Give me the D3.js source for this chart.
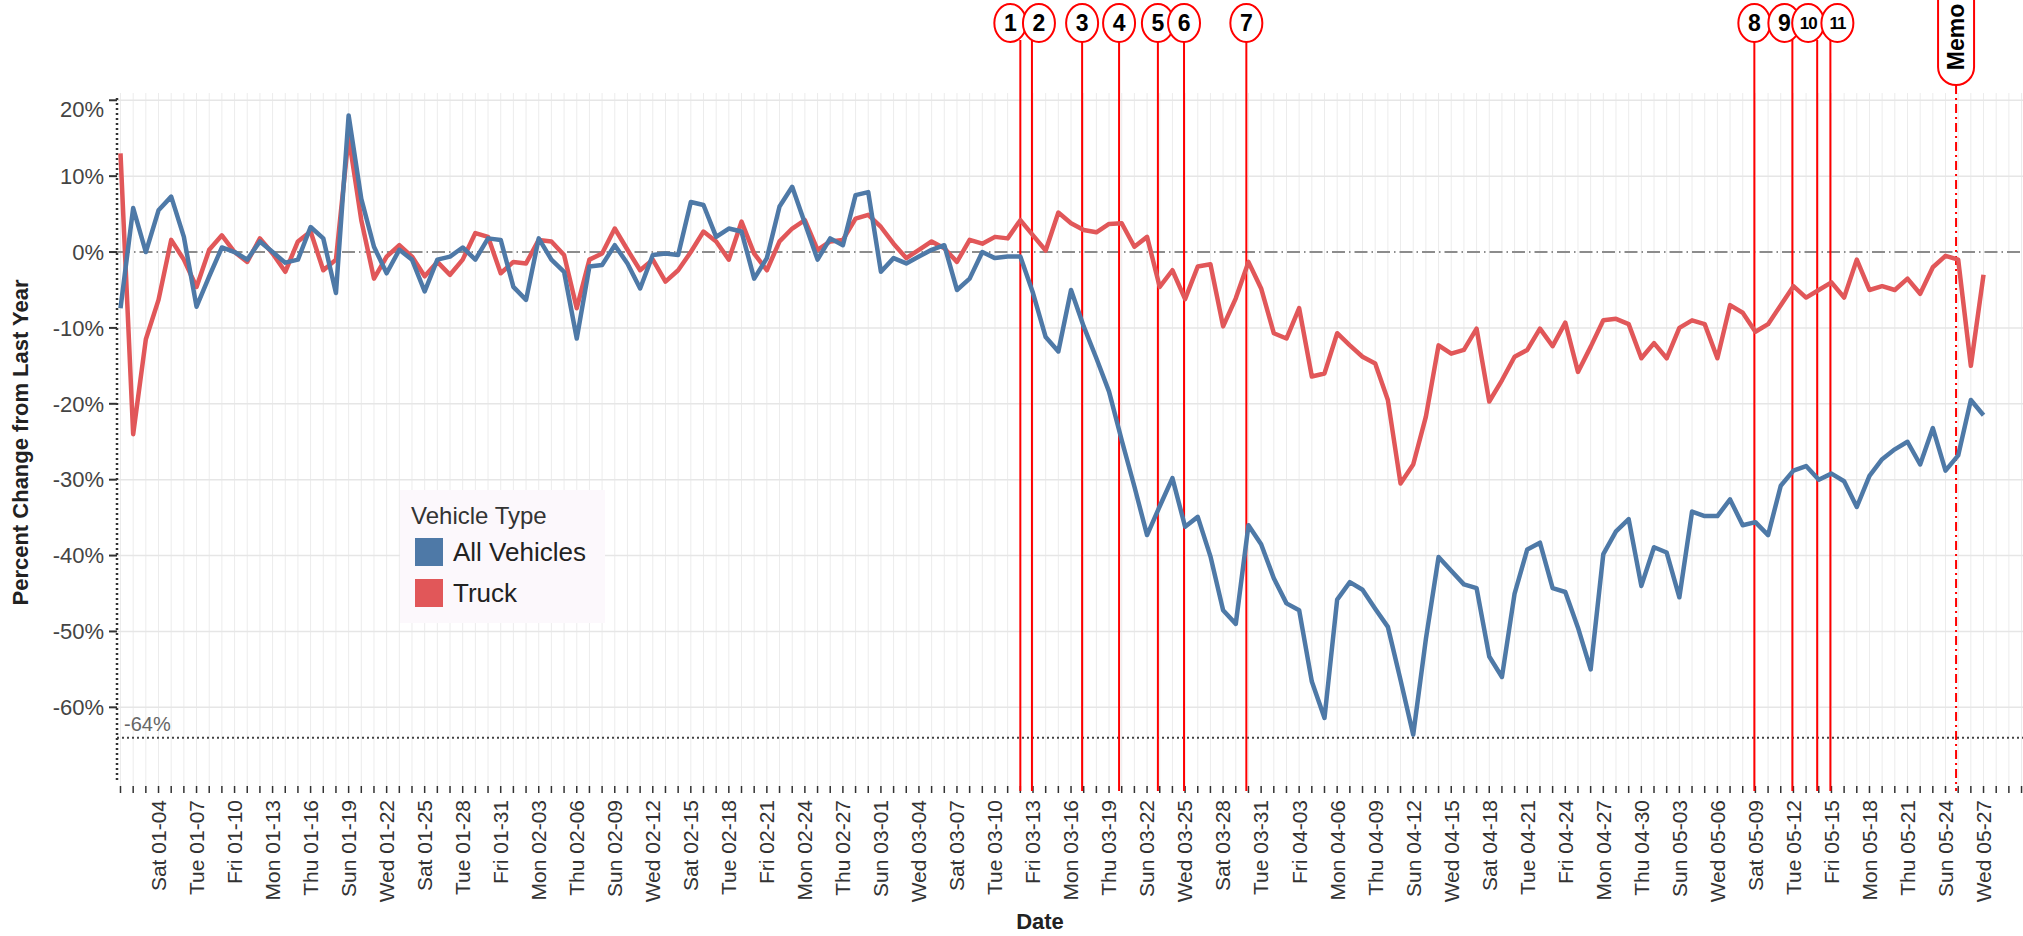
<!DOCTYPE html>
<html>
<head>
<meta charset="utf-8">
<script src="https://cdn.jsdelivr.net/npm/d3@7"></script>
<style>
body { margin: 0; background: #fff; }
text { font-family: "Liberation Sans", Arial, sans-serif; }
</style>
</head>
<body>
<div id="chart"></div>
<script>
// daily values, 2020-01-01 .. 2020-05-28
const firstDay = "2020-01-01";
const lastDay = "2020-05-28";
const allVehicles = [
	-7.4, 5.8, 0, 5.5, 7.3, 2, -7.2, -3.2, 0.6, 0,
	-1, 1.4, 0, -1.4, -1, 3.3, 1.8, -5.4, 18, 7,
	0.7, -2.8, 0.3, -1, -5.2, -1, -0.6, 0.6, -1, 1.8,
	1.6, -4.6, -6.3, 1.8, -1, -2.6, -11.4, -1.9, -1.7, 0.9,
	-1.5, -4.8, -0.4, -0.2, -0.4, 6.6, 6.2, 2, 3.1, 2.7,
	-3.5, -0.8, 6, 8.6, 3.8, -1, 1.8, 0.9, 7.5, 7.9,
	-2.6, -0.8, -1.5, -0.6, 0.3, 0.9, -5, -3.5, 0, -0.8,
	-0.6, -0.6, -5.4, -11.2, -13.1, -5, -9.8, -14, -18.4, -24.8,
	-30.9, -37.3, -33.5, -29.8, -36.2, -34.9, -40.1, -47.2, -49, -36,
	-38.5, -43, -46.3, -47.2, -56.6, -61.4, -45.8, -43.5, -44.5, -47,
	-49.4, -56.4, -63.6, -51, -40.2, -42, -43.8, -44.3, -53.3, -56,
	-45, -39.2, -38.3, -44.3, -44.8, -49.5, -55, -39.8, -36.8, -35.2,
	-44, -38.9, -39.6, -45.5, -34.2, -34.8, -34.8, -32.6, -36, -35.6,
	-37.3, -30.8, -28.8, -28.2, -30, -29.2, -30.2, -33.6, -29.5, -27.3,
	-26, -25, -28, -23.2, -28.8, -26.8, -19.5, -21.5
];
const truck = [
	13, -24, -11.5, -6.3, 1.6, -1, -4.6, 0.3, 2.2, 0,
	-1.3, 1.8, -0.2, -2.6, 1.4, 2.7, -2.4, -1, 15.2, 4.2,
	-3.5, -0.6, 0.9, -0.6, -3.2, -1.3, -3, -1, 2.5, 2,
	-2.8, -1.3, -1.5, 1.6, 1.4, -0.4, -7.4, -1, -0.2, 3.1,
	0.3, -2.4, -1, -3.9, -2.4, 0, 2.7, 1.4, -1, 4,
	-0.2, -2.4, 1.4, 3.1, 4.2, 0.3, 1.4, 1.6, 4.4, 4.9,
	3.3, 1.1, -0.8, 0.3, 1.4, 0.5, -1.3, 1.6, 1.1, 2,
	1.8, 4.2, 2.2, 0.2, 5.2, 3.8, 2.9, 2.6, 3.7, 3.8,
	0.7, 2, -4.6, -2.4, -6.2, -1.9, -1.6, -9.8, -6.1, -1.3,
	-4.8, -10.7, -11.4, -7.4, -16.4, -16, -10.7, -12.3, -13.8, -14.7,
	-19.5, -30.5, -28, -21.7, -12.3, -13.4, -12.9, -10.1, -19.7, -16.9,
	-13.8, -12.9, -10.1, -12.4, -9.3, -15.8, -12.5, -9, -8.8, -9.5,
	-14, -12, -14, -10, -9, -9.5, -14, -7, -8, -10.5,
	-9.5, -7, -4.5, -6, -5, -4, -6, -1, -5, -4.5,
	-5, -3.5, -5.5, -2, -0.5, -1, -15, -3
];
const seriesNames = ["All Vehicles", "Truck"];
const yTicks = [20, 10, 0, -10, -20, -30, -40, -50, -60];
const refValue = -64;
const annotations = [
	["1", "2020-03-12T00:00"], ["2", "2020-03-12T22:00"], ["3", "2020-03-16T21:00"],
	["4", "2020-03-19T19:00"], ["5", "2020-03-22T20:30"], ["6", "2020-03-24T22:00"],
	["7", "2020-03-29T20:00"], ["8", "2020-05-08T22:00"], ["9", "2020-05-11T22:00"],
	["10", "2020-05-13T21:00"], ["11", "2020-05-14T22:00"]
];
const memoDate = "2020-05-24T20:00";

const W = 2023, H = 936;
const colors = {"All Vehicles": "#4e79a7", "Truck": "#e15759"};
const nudge = {"1": -10, "2": 7, "9": -8, "10": -9, "11": 7};
const parse = d3.utcParse("%Y-%m-%dT%H:%M");
const day = s => d3.utcParse("%Y-%m-%d")(s);

const svg = d3.select("#chart").append("svg")
	.attr("width", W)
	.attr("height", H)
	.style("display", "block");

const x = d3.scaleUtc([day(firstDay), day(lastDay)], [120.5, 1996.2]);
const y = d3.scaleLinear([-70.5, 20.3], [787, 98]);
const left = 117, right = W;

const dates = d3.utcDay.range(day(firstDay), d3.utcDay.offset(day(lastDay), 1));
const gridDays = d3.utcDay.range(day(firstDay), d3.utcDay.offset(day(lastDay), 4));

// vertical day grid
svg.append("g")
	.attr("stroke", "#ececec")
	.attr("stroke-width", 1)
	.selectAll("line")
	.data(gridDays.filter(d => x(d) < W))
	.join("line")
	.attr("x1", d => x(d)).attr("x2", d => x(d))
	.attr("y1", 93).attr("y2", 787);

// horizontal grid
svg.append("g")
	.attr("stroke", "#e6e6e6")
	.attr("stroke-width", 1.5)
	.selectAll("line")
	.data(yTicks.filter(v => v !== 0))
	.join("line")
	.attr("x1", left).attr("x2", right)
	.attr("y1", d => y(d)).attr("y2", d => y(d));

// zero line
svg.append("line")
	.attr("x1", left).attr("x2", right)
	.attr("y1", y(0)).attr("y2", y(0))
	.attr("stroke", "#8c8c8c")
	.attr("stroke-width", 2)
	.attr("stroke-dasharray", "13,4,1.5,4");

// reference line -64%
svg.append("line")
	.attr("x1", left).attr("x2", right)
	.attr("y1", y(refValue)).attr("y2", y(refValue))
	.attr("stroke", "#444")
	.attr("stroke-width", 2)
	.attr("stroke-dasharray", "2,3");
svg.append("text")
	.attr("x", 124)
	.attr("y", y(refValue) - 7)
	.attr("font-size", 20)
	.attr("fill", "#666")
	.text(refValue + "%");

// y axis
const yAxis = svg.append("g");
yAxis.append("line")
	.attr("x1", left).attr("x2", left)
	.attr("y1", 98).attr("y2", 780)
	.attr("stroke", "#333")
	.attr("stroke-width", 2.5)
	.attr("stroke-dasharray", "2,3");
yAxis.selectAll(".tk")
	.data(yTicks)
	.join("line")
	.attr("x1", 109).attr("x2", left)
	.attr("y1", d => y(d)).attr("y2", d => y(d))
	.attr("stroke", "#333")
	.attr("stroke-width", 2);
yAxis.selectAll("text")
	.data(yTicks)
	.join("text")
	.attr("x", 104)
	.attr("y", d => y(d) + (d === yTicks[0] ? 9 : 0))
	.attr("dy", "0.35em")
	.attr("text-anchor", "end")
	.attr("font-size", 22)
	.attr("fill", "#444")
	.text(d => d + "%");
svg.append("text")
	.attr("transform", `translate(28,${(98 + 787) / 2}) rotate(-90)`)
	.attr("text-anchor", "middle")
	.attr("font-size", 22)
	.attr("font-weight", "bold")
	.attr("fill", "#222")
	.text("Percent Change from Last Year");

// x axis
const xAxis = svg.append("g");
xAxis.selectAll("line")
	.data(gridDays.filter(d => x(d) < W))
	.join("line")
	.attr("x1", d => x(d)).attr("x2", d => x(d))
	.attr("y1", 786).attr("y2", 793)
	.attr("stroke", "#333")
	.attr("stroke-width", 1.5);
const fmt = d3.utcFormat("%a %m-%d");
xAxis.selectAll("text")
	.data(dates.filter((d, i) => i % 3 === 0 && i > 0))
	.join("text")
	.attr("transform", d => `translate(${x(d)},800) rotate(-90)`)
	.attr("dy", "0.35em")
	.attr("text-anchor", "end")
	.attr("font-size", 21)
	.attr("fill", "#333")
	.text(d => fmt(d));
svg.append("text")
	.attr("x", 1040)
	.attr("y", 929)
	.attr("text-anchor", "middle")
	.attr("font-size", 22)
	.attr("font-weight", "bold")
	.attr("fill", "#222")
	.text("Date");

// annotation stems
const ann = svg.append("g");
ann.selectAll("line")
	.data(annotations)
	.join("line")
	.attr("x1", d => x(parse(d[1]))).attr("x2", d => x(parse(d[1])))
	.attr("y1", 40).attr("y2", 791)
	.attr("stroke", "#ff0000")
	.attr("stroke-width", 2);
svg.append("line")
	.attr("x1", x(parse(memoDate))).attr("x2", x(parse(memoDate)))
	.attr("y1", 85).attr("y2", 791)
	.attr("stroke", "#ff0000")
	.attr("stroke-width", 2)
	.attr("stroke-dasharray", "9,4,2,4");

// series lines
const line = d3.line()
	.x((v, i) => x(dates[i]))
	.y(v => y(v));
svg.append("g")
	.attr("fill", "none")
	.attr("stroke-width", 4.5)
	.attr("stroke-linejoin", "round")
	.selectAll("path")
	.data([[seriesNames[1], truck], [seriesNames[0], allVehicles]])
	.join("path")
	.attr("stroke", d => colors[d[0]])
	.attr("d", d => line(d[1]));

// annotation badges
const badge = ann.selectAll("g")
	.data(annotations)
	.join("g")
	.attr("transform", d => `translate(${x(parse(d[1])) + (nudge[d[0]] || 0)},23)`);
badge.append("ellipse")
	.attr("rx", 16)
	.attr("ry", 19)
	.attr("fill", "#fff")
	.attr("stroke", "#ff0000")
	.attr("stroke-width", 2);
badge.append("text")
	.attr("text-anchor", "middle")
	.attr("dy", "0.36em")
	.attr("font-weight", "bold")
	.attr("font-size", d => d[0].length > 1 ? 17 : 23)
	.attr("letter-spacing", d => d[0].length > 1 ? -1 : 0)
	.attr("fill", "#000")
	.text(d => d[0]);
const memo = svg.append("g")
	.attr("transform", `translate(${x(parse(memoDate))},0)`);
memo.append("rect")
	.attr("x", -18).attr("y", -30)
	.attr("width", 36).attr("height", 115)
	.attr("rx", 18)
	.attr("fill", "#fff")
	.attr("stroke", "#ff0000")
	.attr("stroke-width", 2);
memo.append("text")
	.attr("transform", "translate(0,37) rotate(-90)")
	.attr("text-anchor", "middle")
	.attr("dy", "0.36em")
	.attr("font-weight", "bold")
	.attr("font-size", 23)
	.attr("fill", "#000")
	.text("Memo");

// legend
const lg = svg.append("g");
lg.append("rect")
	.attr("x", 400).attr("y", 490)
	.attr("width", 205).attr("height", 133)
	.attr("fill", "#fcf8fc");
lg.append("text")
	.attr("x", 411).attr("y", 524)
	.attr("font-size", 24)
	.attr("fill", "#333")
	.text("Vehicle Type");
const item = lg.selectAll(".it")
	.data(seriesNames)
	.join("g")
	.attr("transform", (d, i) => `translate(415,${538 + i * 41})`);
item.append("rect")
	.attr("width", 28).attr("height", 28)
	.attr("fill", d => colors[d]);
item.append("text")
	.attr("x", 38).attr("y", 14)
	.attr("dy", "0.36em")
	.attr("font-size", 26)
	.attr("fill", "#222")
	.text(d => d);
</script>
</body>
</html>
